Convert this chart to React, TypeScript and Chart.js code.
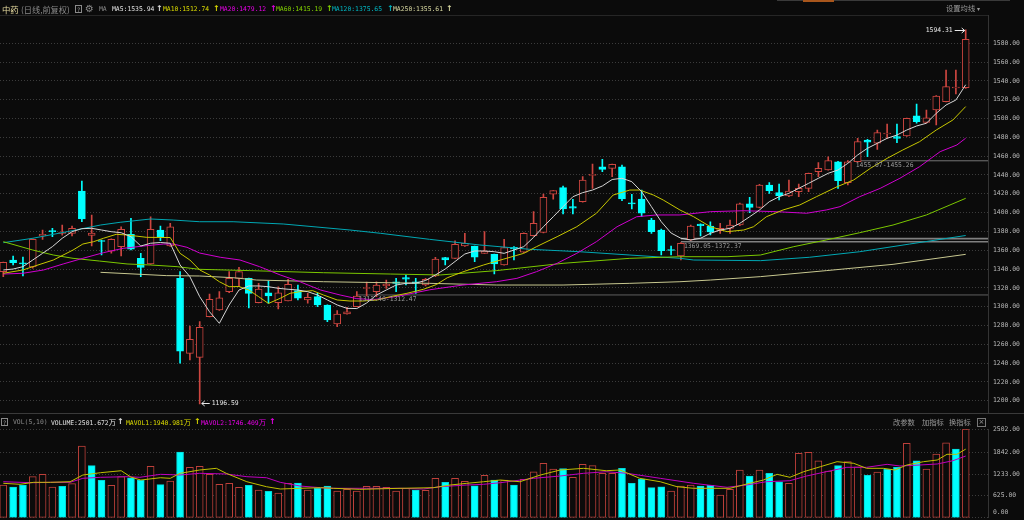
import React, { useEffect, useRef } from "react";
import { Chart, registerables } from "chart.js";

Chart.register(...registerables);

// ---------------- data ----------------
const dayIndex: number[] = Array.from({ length: 99 }, (_, i) => i);

const opens = [1337.2,1349.6,1346.5,1342.2,1375.1,1380.8,1378.0,1378.0,1423.0,1375.7,
1370.3,1358.9,1363.8,1376.9,1351.4,1345.4,1381.5,1364.5,1330.1,1250.4,
1246.1,1289.3,1296.4,1315.9,1330.1,1330.1,1304.2,1314.8,1304.2,1306.0,
1317.0,1307.1,1310.6,1301.8,1281.6,1292.2,1300.0,1319.3,1315.9,1322.0,
1326.5,1330.8,1326.5,1323.0,1332.6,1352.1,1351.4,1364.5,1364.5,1356.7,
1355.7,1344.3,1363.1,1357.8,1375.4,1379.0,1419.5,1426.5,1406.3,1411.6,
1439.5,1448.8,1447.1,1448.8,1410.5,1414.5,1392.1,1381.5,1360.8,1353.9,
1370.9,1387.9,1385.8,1380.8,1383.3,1386.8,1409.2,1405.6,1429.3,1421.2,
1417.7,1422.2,1425.8,1443.5,1445.3,1454.1,1431.8,1454.1,1477.2,1473.7,
1483.6,1480.7,1481.5,1503.0,1496.0,1509.1,1517.9,1532.5,1532.8];

const highs = [1347.5,1353.9,1352.8,1372.0,1381.5,1383.3,1386.8,1385.8,1433.6,1397.5,
1370.9,1372.0,1385.0,1393.9,1356.7,1395.6,1385.8,1388.6,1337.2,1279.4,
1284.0,1313.5,1315.9,1337.2,1341.8,1330.5,1324.8,1327.3,1321.2,1329.1,
1323.0,1314.2,1314.2,1302.0,1295.7,1299.3,1315.9,1326.2,1326.5,1328.3,
1330.1,1333.7,1330.1,1330.0,1352.5,1352.5,1370.1,1378.0,1364.5,1379.7,
1356.0,1371.6,1363.8,1378.5,1401.0,1419.8,1423.5,1428.3,1414.2,1438.2,
1451.7,1456.7,1451.7,1450.6,1419.5,1424.0,1393.9,1382.6,1364.5,1368.0,
1386.8,1388.0,1390.3,1388.6,1392.1,1410.0,1416.3,1430.0,1431.8,1430.4,
1434.7,1430.4,1442.0,1453.1,1459.4,1454.5,1455.3,1479.0,1477.9,1487.8,
1494.2,1494.2,1500.5,1515.5,1509.1,1524.5,1551.6,1551.6,1594.31];

const lows = [1331.8,1344.3,1332.6,1341.0,1371.6,1374.4,1375.9,1375.1,1390.3,1364.5,
1354.9,1357.0,1353.9,1360.2,1331.8,1345.0,1370.1,1364.0,1239.8,1243.3,
1196.59,1289.0,1296.0,1315.0,1321.2,1298.6,1304.0,1303.6,1297.5,1306.0,
1307.1,1303.6,1300.0,1284.0,1278.7,1292.0,1300.0,1311.3,1310.6,1319.5,
1315.9,1323.0,1314.2,1322.0,1332.0,1344.3,1351.0,1364.0,1347.8,1356.5,
1334.7,1344.0,1349.6,1357.5,1375.0,1378.5,1414.2,1398.5,1398.5,1411.0,
1425.8,1443.5,1438.2,1412.7,1403.8,1395.6,1378.0,1354.9,1354.9,1349.6,
1370.5,1375.1,1376.2,1378.0,1378.0,1386.0,1399.9,1405.0,1420.5,1413.4,
1416.9,1416.9,1422.2,1438.2,1445.0,1425.8,1429.4,1454.0,1459.4,1467.3,
1479.0,1474.3,1481.0,1495.0,1495.0,1493.2,1517.6,1526.1,1532.0];

const closes = [1347.2,1346.7,1345.5,1371.6,1376.9,1379.7,1379.4,1383.3,1393.2,1378.3,
1369.3,1371.6,1382.3,1361.0,1341.6,1382.3,1374.4,1385.0,1252.8,1265.3,
1278.0,1307.8,1309.5,1330.1,1337.2,1314.2,1318.8,1311.3,1314.8,1323.8,
1308.9,1310.0,1301.8,1285.8,1292.2,1294.6,1311.3,1320.4,1323.0,1324.1,
1324.8,1329.1,1324.8,1329.1,1350.7,1349.8,1366.3,1367.4,1352.5,1359.2,
1345.4,1362.7,1361.3,1378.0,1388.6,1416.3,1423.3,1403.8,1404.6,1434.7,
1440.0,1446.0,1451.4,1414.5,1409.2,1399.3,1379.7,1359.5,1359.7,1367.4,
1385.8,1386.1,1379.4,1383.3,1386.8,1409.2,1405.6,1429.3,1423.3,1418.0,
1423.0,1425.8,1441.8,1447.1,1455.2,1433.9,1454.1,1475.4,1474.8,1485.0,
1484.6,1479.0,1500.3,1496.7,1500.9,1524.0,1533.9,1533.0,1584.3];

// volume in 万
const volumes = [927,870,927,1162,1229,870,890,964,2029,1473,
1060,918,1162,1133,1060,1456,936,1040,1860,1427,
1456,1229,947,975,862,918,786,749,701,975,
984,786,834,899,757,805,757,890,890,862,
757,834,786,777,1116,1003,1116,1032,907,1201,
1068,1068,927,1088,1303,1540,1379,1388,1145,1512,
1473,1258,1258,1399,975,1097,851,879,757,899,
927,899,918,644,805,1351,1181,1351,1258,1020,
975,1823,1851,1614,1323,1473,1586,1444,1201,1294,
1371,1427,2106,1614,1379,1803,2123,1945,2501.672];

// R = red (up vs previous close), C = cyan (down)
const volumeDir = "RCCRRRCRRC" + "CRRCCRCRCR" + "RRRRRCRCRR" + "CRCCRRRRRR" + "RRCRRCRRCR" +
  "CRCRRRRCRR" + "RRRCCCCCRR" + "RCCRRRCRCC" + "RRRRRCRRCR" + "CCRCRRRCR";

const ma5 = [1339.0,1340.0,1342.5,1349.6,1356.7,1363.8,1372.7,1379.7,1382.9,1383.3,
1381.5,1379.7,1378.6,1374.4,1364.5,1367.4,1368.2,1367.4,1344.3,1331.9,
1310.6,1294.6,1282.3,1301.8,1317.7,1322.0,1322.0,1321.2,1319.5,1318.5,
1317.7,1315.9,1312.4,1307.1,1301.8,1298.2,1298.0,1303.9,1312.4,1317.7,
1323.0,1324.8,1325.1,1327.8,1333.7,1340.0,1348.0,1356.0,1359.2,1359.2,
1358.4,1356.7,1360.2,1363.8,1373.7,1385.0,1395.6,1406.3,1416.9,1421.2,
1424.0,1428.3,1435.2,1436.5,1432.9,1422.2,1406.3,1390.3,1378.3,1372.7,
1370.9,1372.7,1378.0,1381.5,1383.3,1388.6,1395.6,1402.8,1411.6,1416.9,
1420.5,1425.8,1431.1,1436.5,1441.8,1445.3,1452.4,1461.3,1468.4,1473.7,
1479.0,1482.5,1487.8,1492.1,1495.0,1505.6,1514.4,1519.7,1535.94];

const ma10: [number, number][] = [[0,1335.5],[2,1339],[3,1342.5],[5.1,1349.6],[7.1,1360.2],[8.1,1366.6],[9.2,1369.1],[10.2,1372.7],[11.5,1376.9],[12.6,1376.2],[14.6,1373.7],[17,1373.5],[18,1356.7],[19,1349.6],[20,1339],[21,1333.7],[22,1326.5],[23,1321.2],[24,1321.4],[25,1317.7],[26,1310.6],[27,1303.4],[28.2,1308.9],[29.2,1314.2],[30.2,1315.9],[31.5,1317],[32.6,1312.4],[34,1307.1],[35.3,1306],[36.6,1306],[38.1,1307.1],[39.4,1310.6],[41.1,1314.2],[42.8,1318.5],[44.1,1323.5],[45.2,1330.7],[46.8,1337],[48.9,1344.3],[50.9,1350.4],[53,1356.7],[54.3,1363.8],[56.4,1374.4],[58.4,1385],[60.4,1399.3],[62.1,1418.7],[63.8,1424],[64.8,1424],[66.2,1418.7],[67.2,1413.4],[68.9,1402.8],[70.3,1395.6],[72,1385],[73.7,1379.7],[75.4,1381.5],[76.4,1385],[77.7,1395.6],[79.4,1402.8],[81.1,1408.1],[82.8,1416.9],[84.9,1427.5],[86.6,1434.7],[88.3,1447.1],[90,1457.7],[91.6,1466.6],[93.3,1475.4],[95,1487.8],[96.7,1498.5],[98,1512.74]];

const ma20: [number, number][] = [[0,1334.7],[2,1335.5],[4.1,1339],[6.1,1345.4],[8.1,1351.4],[10.2,1357.4],[12.2,1362],[14.3,1364.5],[16.3,1366.6],[17.3,1366.6],[18.7,1363.1],[20,1357],[22.1,1352.5],[24.1,1349.6],[26.1,1342.5],[28.2,1333.7],[30.2,1326.5],[32.3,1317.7],[34.3,1312.4],[36,1308.5],[37.7,1307.5],[40.1,1310.9],[43.4,1317.9],[46.8,1323],[50.2,1326.5],[52.3,1330.1],[54.3,1337.2],[56.4,1346.1],[58.4,1356.7],[60.4,1369.1],[62.5,1385],[64.5,1395.6],[66.5,1397.5],[68.9,1397.5],[72,1401],[75.4,1402],[78.7,1401],[81.8,1399.3],[83.8,1402.8],[85.2,1406.3],[87.2,1416.9],[89.3,1425.8],[91.3,1436.5],[93.3,1448.8],[95.4,1464.8],[97.1,1471.9],[98,1479.12]];

const ma60: [number, number][] = [[0,1369.1],[3,1360.2],[5.1,1354.9],[7.1,1351.4],[9.8,1348.5],[12.6,1345.4],[15,1344.3],[17.7,1342.5],[20,1339.7],[25.1,1338.3],[32.6,1336.1],[39.4,1334.7],[44.5,1333.7],[50.2,1338.3],[57,1346.1],[63.8,1351.4],[68.9,1353.1],[73.7,1353.1],[77.1,1354.9],[80.5,1363.8],[83.8,1370.9],[87.2,1378.6],[90.6,1386.8],[94,1397.5],[98,1415.19]];

const ma120: [number, number][] = [[0,1368],[3,1372.7],[6.5,1379.7],[9.9,1386.8],[11.9,1389.7],[15,1393.2],[17.3,1392.1],[20,1390.3],[23.4,1390.3],[28.5,1387.9],[35.3,1381.5],[38.4,1378],[43.4,1371.6],[48.5,1365.6],[53.6,1361],[58.7,1358.4],[63.8,1354.9],[68.9,1351.4],[70.3,1349.6],[77.1,1348.9],[82.1,1352.5],[87.2,1358.4],[92.3,1366.6],[98,1375.65]];

const ma250: [number, number][] = [[9.9,1336.5],[16.6,1333],[20,1332.6],[23.4,1330.8],[25.8,1328.3],[32.6,1326.5],[43.4,1324.8],[50.2,1323],[57,1323],[63.8,1324.8],[68.9,1326.5],[72,1328.3],[77.1,1331.9],[83.8,1338.3],[90.6,1345],[98,1355.61]];

const mavol1: [number, number][] = [[0,975],[1.7,947],[3.1,1003],[4.8,1003],[6.8,1020],[8.1,1210],[9.9,1275],[12,1331],[13,1150],[14,1068],[16,1133],[17,1116],[18,1258],[20,1351],[21.7,1399],[22.7,1258],[24.8,1020],[26.8,879],[28.2,814],[30.2,834],[32.3,851],[33.6,834],[36.3,805],[40.4,834],[43.8,851],[45.5,927],[47.2,975],[48.9,1020],[50.6,1068],[52.6,1020],[54.7,1210],[56.7,1351],[59.1,1399],[61.4,1331],[62.8,1351],[64.8,1116],[66.9,1020],[68.6,879],[70.3,834],[72.3,834],[74,834],[75.7,955],[77.4,1068],[78.8,1229],[80.1,1145],[81.5,1303],[83.2,1444],[84.9,1586],[86.6,1540],[87.9,1399],[89.6,1399],[90.8,1351],[92,1492],[93.7,1586],[95.1,1634],[96.1,1795],[97.1,1795],[98,1940.981]];

const mavol2: [number, number][] = [[0,1020],[1.7,1003],[3.1,992],[4.8,1003],[6.8,1003],[8.1,1116],[9.9,1145],[12.6,1162],[13.9,1145],[16,1229],[18,1210],[20,1258],[22.7,1238],[24.8,1162],[26.8,1133],[28.2,1003],[30.2,899],[32.3,851],[33.6,834],[37,834],[40.4,834],[42.8,814],[44.5,879],[47.2,927],[48.9,947],[50.6,992],[54,1116],[56.7,1181],[59.1,1258],[61.4,1303],[63.5,1258],[66.9,1116],[70.3,975],[73.7,862],[75.7,927],[77.7,1020],[80.1,1049],[81.8,1181],[83.8,1303],[85.9,1427],[87.9,1427],[90,1512],[91.3,1464],[93.3,1492],[95.1,1521],[96.7,1614],[98,1746.409]];

const priceTicks = [1200,1220,1240,1260,1280,1300,1320,1340,1360,1380,1400,1420,1440,1460,1480,1500,1520,1540,1560,1580];
const volumeTicks = [0, 625, 1233, 1842, 2502];

// price-range marks: starting day index, low and high of the range
const levelStart = [35.9, 69.0, 86.5];
const levelLow = [1312.46, 1369.05, 1455.07];
const levelHigh = [1312.47, 1372.37, 1455.26];

// ---------------- styles ----------------
const BG = "#0b0b0b";
const RED = "rgb(206,70,64)";
const RED_VOL = "rgb(190,64,58)";
const CYAN = "#00ffff";
const C_MA5 = "#d6d6d6";
const C_MA10 = "#c8c800";
const C_MA20 = "#d000d0";
const C_MA60 = "#7cc800";
const C_MA120 = "#00a8b4";
const C_MA250 = "#c8c890";
const GRID = "#3c3c3c";
const AXIS_LINE = "#343434";
const AXIS_TXT = "#b8b8b8";
const LEVEL_COLORS = ["#444444", "#808080", "#5a5a5a"];
const MONO = '"DejaVu Sans Mono", monospace';
const CJK = '"Noto Sans CJK SC", sans-serif';
const MONO_SIZE = 6.4;
const X_MIN = -0.336;
const X_MAX = 100.271;

const pts = (arr: [number, number][]) => arr.map(([x, y]) => ({ x, y }));

function lineDs(data: { x: number; y: number }[], color: string, order: number, width = 1) {
  return {
    type: "line" as const,
    data,
    borderColor: color,
    borderWidth: width,
    pointRadius: 0,
    tension: 0,
    order,
  };
}

function arrow(ctx: CanvasRenderingContext2D, x1: number, y: number, x2: number) {
  const dir = x2 > x1 ? 1 : -1;
  ctx.beginPath();
  ctx.moveTo(x1, y);
  ctx.lineTo(x2, y);
  ctx.moveTo(x2 - dir * 3, y - 2.5);
  ctx.lineTo(x2, y);
  ctx.lineTo(x2 - dir * 3, y + 2.5);
  ctx.stroke();
}

const priceNotes = {
  id: "priceNotes",
  afterDatasetsDraw(chart: any) {
    const { ctx, scales } = chart;
    const x = scales.x;
    const y = scales.y;
    ctx.save();
    ctx.font = `${MONO_SIZE}px ${MONO}`;
    ctx.lineWidth = 1;
    let hi = 0;
    let lo = 0;
    highs.forEach((v, i) => { if (v > highs[hi]) hi = i; });
    lows.forEach((v, i) => { if (v < lows[lo]) lo = i; });
    ctx.fillStyle = "#e8e8e8";
    ctx.strokeStyle = "#e8e8e8";
    ctx.textBaseline = "middle";
    const hx = x.getPixelForValue(hi);
    const hy = Math.round(y.getPixelForValue(highs[hi])) + 0.5;
    ctx.textAlign = "right";
    ctx.fillText(highs[hi].toFixed(2), hx - 13, hy);
    arrow(ctx, hx - 11, hy, hx - 1);
    const lx = x.getPixelForValue(lo);
    const ly = Math.round(y.getPixelForValue(lows[lo])) - 0.5;
    ctx.textAlign = "left";
    arrow(ctx, lx + 10, ly, lx + 2);
    ctx.fillText(lows[lo].toFixed(2), lx + 12, ly);
    ctx.fillStyle = "#9a9a9a";
    ctx.textBaseline = "top";
    levelStart.forEach((s, k) => {
      const px = x.getPixelForValue(s) + 3;
      const py = y.getPixelForValue(levelLow[k]) + 1.5;
      ctx.fillText(`${levelLow[k].toFixed(2)}-${levelHigh[k].toFixed(2)}`, px, py);
    });
    ctx.restore();
  },
};

const volumeZeroLabel = {
  id: "volumeZeroLabel",
  afterDraw(chart: any) {
    const { ctx, scales, chartArea } = chart;
    ctx.save();
    ctx.font = `${MONO_SIZE}px ${MONO}`;
    ctx.fillStyle = AXIS_TXT;
    ctx.textBaseline = "middle";
    ctx.textAlign = "left";
    const py = Math.min(scales.y.getPixelForValue(0), chartArea.bottom) - 5.5;
    ctx.fillText((0).toFixed(2), chartArea.right + 5, py);
    ctx.restore();
  },
};

function yAxis(min: number, max: number, ticks: number[], hideZero: boolean) {
  return {
    position: "right" as const,
    min,
    max,
    afterFit(scale: any) {
      scale.width = 36;
      scale.paddingTop = 0;
      scale.paddingBottom = 0;
    },
    afterBuildTicks(scale: any) { scale.ticks = ticks.map((v) => ({ value: v })); },
    ticks: {
      color: AXIS_TXT,
      padding: 5,
      font: { family: MONO, size: MONO_SIZE },
      callback: (v: any) => (hideZero && Number(v) === 0 ? "" : Number(v).toFixed(2)),
    },
    grid: { color: GRID, drawTicks: false, lineWidth: 1 },
    border: { display: true, color: AXIS_LINE, dash: [1, 2] },
  };
}

const xAxis = { type: "linear" as const, min: X_MIN, max: X_MAX, display: false, offset: false };

function Txt(props: { x: number; y: number; color: string; size?: number; family?: string; bold?: boolean; children: any }) {
  const { x, y, color, size = MONO_SIZE, family = MONO, bold, children } = props;
  return (
    <span
      style={{
        position: "absolute",
        left: x,
        top: y,
        transform: "translateY(-50%)",
        color,
        fontSize: size,
        fontFamily: family,
        fontWeight: bold ? 700 : 400,
        lineHeight: 1,
        whiteSpace: "nowrap",
      }}
    >
      {children}
    </span>
  );
}

function QBox({ x, y }: { x: number; y: number }) {
  return (
    <span
      style={{
        position: "absolute", left: x, top: y - 4.5, width: 7, height: 8,
        border: "1px solid #8a8a8a", color: "#9a9a9a", fontSize: 6, fontFamily: MONO,
        lineHeight: "8px", textAlign: "center", boxSizing: "border-box",
      }}
    >?</span>
  );
}

export default function App() {
  const mainRef = useRef<HTMLCanvasElement | null>(null);
  const volRef = useRef<HTMLCanvasElement | null>(null);

  useEffect(() => {
    const isUp = (i: number) => closes[i] >= opens[i];
    const main = new Chart(mainRef.current as HTMLCanvasElement, {
      type: "bar",
      data: {
        datasets: [
          ...levelStart.flatMap((s, k) => [
            lineDs([{ x: s, y: levelLow[k] }, { x: X_MAX, y: levelLow[k] }], LEVEL_COLORS[k], 9, k === 1 ? 1.6 : 1),
            lineDs([{ x: s, y: levelHigh[k] }, { x: X_MAX, y: levelHigh[k] }], LEVEL_COLORS[k], 9, k === 1 ? 1.6 : 1),
          ]),
          {
            type: "bar",
            data: dayIndex.map((i) => ({ x: i, y: [lows[i], highs[i]] })),
            backgroundColor: dayIndex.map((i) => (isUp(i) ? RED : CYAN)),
            barThickness: 1,
            grouped: false,
            order: 8,
          } as any,
          {
            type: "bar",
            data: dayIndex.map((i) => ({ x: i, y: [opens[i], closes[i]] })),
            backgroundColor: dayIndex.map((i) => (isUp(i) ? BG : CYAN)),
            borderColor: dayIndex.map((i) => (isUp(i) ? RED : CYAN)),
            borderWidth: 1,
            borderSkipped: false,
            barThickness: 7,
            minBarLength: 1,
            grouped: false,
            order: 7,
          } as any,
          lineDs(pts(ma250), C_MA250, 6),
          lineDs(pts(ma120), C_MA120, 5),
          lineDs(pts(ma60), C_MA60, 4),
          lineDs(pts(ma20), C_MA20, 3),
          lineDs(pts(ma10), C_MA10, 2),
          lineDs(dayIndex.map((i) => ({ x: i, y: ma5[i] })), C_MA5, 1),
        ] as any,
      },
      options: {
        animation: false,
        responsive: false,
        maintainAspectRatio: false,
        layout: { padding: { top: 15, left: 0, right: 0, bottom: 0.5 } },
        plugins: { legend: { display: false }, tooltip: { enabled: false } },
        scales: {
          x: xAxis,
          y: yAxis(1186.4, 1610.1, priceTicks, false),
        } as any,
      },
      plugins: [priceNotes],
    });

    const vol = new Chart(volRef.current as HTMLCanvasElement, {
      type: "bar",
      data: {
        datasets: [
          {
            type: "bar",
            data: dayIndex.map((i) => ({ x: i, y: volumes[i] })),
            backgroundColor: dayIndex.map((i) => (volumeDir[i] === "R" ? BG : CYAN)),
            borderColor: dayIndex.map((i) => (volumeDir[i] === "R" ? RED_VOL : "#00d8d8")),
            borderWidth: 1,
            borderSkipped: false,
            barThickness: 7,
            grouped: false,
            order: 3,
          } as any,
          lineDs(pts(mavol2), "#c000c0", 2),
          lineDs(pts(mavol1), "#c0c000", 1),
        ] as any,
      },
      options: {
        animation: false,
        responsive: false,
        maintainAspectRatio: false,
        layout: { padding: { top: 15.3, left: 0, right: 0, bottom: 2.2 } },
        plugins: { legend: { display: false }, tooltip: { enabled: false } },
        scales: {
          x: xAxis,
          y: yAxis(0, 2502, volumeTicks, true),
        } as any,
      },
      plugins: [volumeZeroLabel],
    });

    return () => {
      main.destroy();
      vol.destroy();
    };
  }, []);

  const last = (a: [number, number][], d = 2) => a[a.length - 1][1].toFixed(d);
  const maLegend = [
    { x: 112, arrowX: 156, color: "#e2e2e2", text: `MA5:${ma5[ma5.length - 1].toFixed(2)}` },
    { x: 163, arrowX: 213, color: "#dcdc00", text: `MA10:${last(ma10)}` },
    { x: 220, arrowX: 270, color: "#e800e8", text: `MA20:${last(ma20)}` },
    { x: 276, arrowX: 326, color: "#84d400", text: `MA60:${last(ma60)}` },
    { x: 332, arrowX: 387, color: "#00b8c4", text: `MA120:${last(ma120)}` },
    { x: 393, arrowX: 446, color: "#d8d8a0", text: `MA250:${last(ma250)}` },
  ];
  const volLegend = [
    { x: 51, arrowX: 117, color: "#e2e2e2", text: `VOLUME:${volumes[volumes.length - 1].toFixed(3)}` },
    { x: 126, arrowX: 194, color: "#dcdc00", text: `MAVOL1:${last(mavol1, 3)}` },
    { x: 201, arrowX: 269, color: "#e800e8", text: `MAVOL2:${last(mavol2, 3)}` },
  ];

  return (
    <div
      style={{
        position: "absolute", left: 0, top: 0, width: 1024, height: 520,
        background: BG, overflow: "hidden",
      }}
    >
      <canvas ref={mainRef} width={1024} height={414} style={{ position: "absolute", left: 0, top: 0 }} />
      <canvas ref={volRef} width={1024} height={106} style={{ position: "absolute", left: 0, top: 414 }} />

      {/* frame lines */}
      <div style={{ position: "absolute", left: 0, top: 15, width: 988, height: 1, background: "#262626" }} />
      <div style={{ position: "absolute", left: 0, top: 413, width: 1024, height: 1, background: "#3a3a3a" }} />
      <div style={{ position: "absolute", left: 777, top: 0, width: 233, height: 1, background: "#3a3a3a" }} />
      <div style={{ position: "absolute", left: 803, top: 0, width: 31, height: 2, background: "#a8561c" }} />

      {/* price header */}
      <Txt x={2} y={9} color="#e8dca0" size={8.4} family={CJK}>中药</Txt>
      <Txt x={21} y={9} color="#8a8a8a" size={8.2} family={CJK}>(日线,前复权)</Txt>
      <QBox x={75} y={9} />
      <Txt x={85} y={9} color="#8a8a8a" size={10} family='"DejaVu Sans", sans-serif'>⚙</Txt>
      <Txt x={99} y={9} color="#8a8a8a">MA</Txt>
      {maLegend.map((m) => (
        <React.Fragment key={m.text}>
          <Txt x={m.x} y={9} color={m.color}>{m.text}</Txt>
          <Txt x={m.arrowX} y={9} color={m.color} size={8} bold family='"DejaVu Sans", sans-serif'>↑</Txt>
        </React.Fragment>
      ))}
      <Txt x={946} y={9} color="#9a9a9a" size={7.3} family={CJK}>设置均线</Txt>
      <Txt x={977} y={9} color="#9a9a9a" size={6} family='"DejaVu Sans", sans-serif'>▾</Txt>

      {/* volume header */}
      <QBox x={1} y={422} />
      <Txt x={13} y={422} color="#8a8a8a">VOL(5,10)</Txt>
      {volLegend.map((m) => (
        <React.Fragment key={m.text}>
          <Txt x={m.x} y={422} color={m.color}>
            {m.text}
            <span style={{ fontFamily: CJK, fontSize: 7.4 }}>万</span>
          </Txt>
          <Txt x={m.arrowX} y={422} color={m.color} size={8} bold family='"DejaVu Sans", sans-serif'>↑</Txt>
        </React.Fragment>
      ))}
      <Txt x={893} y={423} color="#9a9a9a" size={7.3} family={CJK}>改参数</Txt>
      <Txt x={922} y={423} color="#9a9a9a" size={7.3} family={CJK}>加指标</Txt>
      <Txt x={949} y={423} color="#9a9a9a" size={7.3} family={CJK}>换指标</Txt>
      <span
        style={{
          position: "absolute", left: 977, top: 418, width: 9, height: 9, border: "1px solid #777",
          boxSizing: "border-box", color: "#9a9a9a", fontSize: 7, lineHeight: "7px", textAlign: "center",
          fontFamily: '"DejaVu Sans", sans-serif',
        }}
      >×</span>
    </div>
  );
}
